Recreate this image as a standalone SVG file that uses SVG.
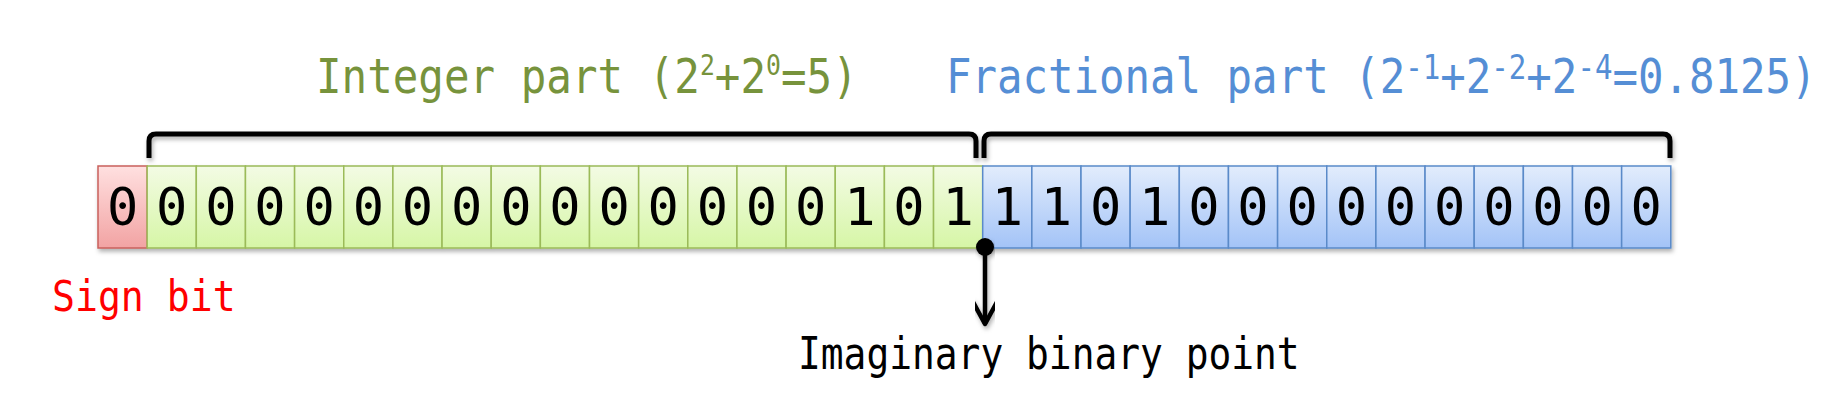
<svg xmlns="http://www.w3.org/2000/svg" width="1845" height="412" viewBox="0 0 1845 412">
  <defs>
    <linearGradient id="gSign" x1="0" y1="0" x2="0" y2="1">
      <stop offset="0" stop-color="#FFE0E0"/>
      <stop offset="1" stop-color="#F2A3A3"/>
    </linearGradient>
    <linearGradient id="gInt" x1="0" y1="0" x2="0" y2="1">
      <stop offset="0" stop-color="#F3FBE4"/>
      <stop offset="1" stop-color="#D6F6A6"/>
    </linearGradient>
    <linearGradient id="gFrac" x1="0" y1="0" x2="0" y2="1">
      <stop offset="0" stop-color="#E2ECFC"/>
      <stop offset="1" stop-color="#A3C3F7"/>
    </linearGradient>
    <filter id="shadow" x="-5%" y="-20%" width="110%" height="150%">
      <feDropShadow dx="1.5" dy="3" stdDeviation="2" flood-color="#000" flood-opacity="0.3"/>
    </filter>
    <marker id="chev" viewBox="0 0 30 30" refX="26" refY="15" markerWidth="30" markerHeight="30" markerUnits="userSpaceOnUse" orient="auto">
      <path d="M3,2.5 L26,15 L3,27.5" fill="none" stroke="#000" stroke-width="4.5" stroke-linecap="round" stroke-linejoin="round"/>
    </marker>
  </defs>
  <style>
    .mono { font-family: "DejaVu Sans Mono", "Liberation Mono", monospace; }
    .digit { font-family: "DejaVu Sans Mono", "Liberation Mono", monospace; font-size: 52px; fill: #000; text-anchor: middle; }
    .sign { fill: url(#gSign); stroke: #C9605C; stroke-width: 1.5; }
    .int { fill: url(#gInt); stroke: #9BBB59; stroke-width: 1.5; }
    .frac { fill: url(#gFrac); stroke: #5A8AC9; stroke-width: 1.5; }
    .brace { fill: none; stroke: #000; stroke-width: 5; stroke-linejoin: round; stroke-linecap: butt; }
  </style>
  <rect width="1845" height="412" fill="#FFFFFF"/>

  <!-- Labels -->
  <g id="label-integer">
    <text class="mono" transform="translate(316,93) scale(0.886,1)" font-size="48" fill="#77933C">Integer part (2<tspan font-size="28" dy="-18">2</tspan><tspan dy="18">+2</tspan><tspan font-size="28" dy="-18">0</tspan><tspan dy="18">=5)</tspan></text>
  </g>
  <g id="label-fractional">
    <text class="mono" transform="translate(946,93) scale(0.883,1)" font-size="48" fill="#558ED5">Fractional part (2<tspan font-size="33" dy="-14">-1</tspan><tspan dy="14">+2</tspan><tspan font-size="33" dy="-14">-2</tspan><tspan dy="14">+2</tspan><tspan font-size="33" dy="-14">-4</tspan><tspan dy="14">=0.8125)</tspan></text>
  </g>
  <g id="label-sign">
    <text class="mono" transform="translate(52,311) scale(0.887,1)" font-size="43" fill="#FF0000">Sign bit</text>
  </g>
  <g id="label-point">
    <text class="mono" transform="translate(798,369) scale(0.861,1)" font-size="44" fill="#000000">Imaginary binary point</text>
  </g>

  <!-- Brackets -->
  <g id="brackets" filter="url(#shadow)">
    <path class="brace" d="M149,158 L149,141 Q149,134 156,134 L969,134 Q976,134 976,141 L976,158"/>
    <path class="brace" d="M984,158 L984,141 Q984,134 991,134 L1663,134 Q1670,134 1670,141 L1670,158"/>
  </g>

  <!-- Bit cells -->
  <g id="cells" filter="url(#shadow)">
    <g id="bit-31"><rect class="sign" x="98.0" y="166" width="49.15" height="82"/><text class="digit" x="122.6" y="225">0</text></g>
    <g id="bit-30"><rect class="int" x="147.15" y="166" width="49.15" height="82"/><text class="digit" x="171.7" y="225">0</text></g>
    <g id="bit-29"><rect class="int" x="196.3" y="166" width="49.15" height="82"/><text class="digit" x="220.9" y="225">0</text></g>
    <g id="bit-28"><rect class="int" x="245.45" y="166" width="49.15" height="82"/><text class="digit" x="270.0" y="225">0</text></g>
    <g id="bit-27"><rect class="int" x="294.6" y="166" width="49.15" height="82"/><text class="digit" x="319.2" y="225">0</text></g>
    <g id="bit-26"><rect class="int" x="343.75" y="166" width="49.15" height="82"/><text class="digit" x="368.3" y="225">0</text></g>
    <g id="bit-25"><rect class="int" x="392.9" y="166" width="49.15" height="82"/><text class="digit" x="417.5" y="225">0</text></g>
    <g id="bit-24"><rect class="int" x="442.05" y="166" width="49.15" height="82"/><text class="digit" x="466.6" y="225">0</text></g>
    <g id="bit-23"><rect class="int" x="491.2" y="166" width="49.15" height="82"/><text class="digit" x="515.8" y="225">0</text></g>
    <g id="bit-22"><rect class="int" x="540.35" y="166" width="49.15" height="82"/><text class="digit" x="564.9" y="225">0</text></g>
    <g id="bit-21"><rect class="int" x="589.5" y="166" width="49.15" height="82"/><text class="digit" x="614.1" y="225">0</text></g>
    <g id="bit-20"><rect class="int" x="638.65" y="166" width="49.15" height="82"/><text class="digit" x="663.2" y="225">0</text></g>
    <g id="bit-19"><rect class="int" x="687.8" y="166" width="49.15" height="82"/><text class="digit" x="712.4" y="225">0</text></g>
    <g id="bit-18"><rect class="int" x="736.95" y="166" width="49.15" height="82"/><text class="digit" x="761.5" y="225">0</text></g>
    <g id="bit-17"><rect class="int" x="786.1" y="166" width="49.15" height="82"/><text class="digit" x="810.7" y="225">0</text></g>
    <g id="bit-16"><rect class="int" x="835.25" y="166" width="49.15" height="82"/><text class="digit" x="859.8" y="225">1</text></g>
    <g id="bit-15"><rect class="int" x="884.4" y="166" width="49.15" height="82"/><text class="digit" x="909.0" y="225">0</text></g>
    <g id="bit-14"><rect class="int" x="933.55" y="166" width="49.15" height="82"/><text class="digit" x="958.1" y="225">1</text></g>
    <g id="bit-13"><rect class="frac" x="982.7" y="166" width="49.15" height="82"/><text class="digit" x="1007.3" y="225">1</text></g>
    <g id="bit-12"><rect class="frac" x="1031.85" y="166" width="49.15" height="82"/><text class="digit" x="1056.4" y="225">1</text></g>
    <g id="bit-11"><rect class="frac" x="1081.0" y="166" width="49.15" height="82"/><text class="digit" x="1105.6" y="225">0</text></g>
    <g id="bit-10"><rect class="frac" x="1130.15" y="166" width="49.15" height="82"/><text class="digit" x="1154.7" y="225">1</text></g>
    <g id="bit-9"><rect class="frac" x="1179.3" y="166" width="49.15" height="82"/><text class="digit" x="1203.9" y="225">0</text></g>
    <g id="bit-8"><rect class="frac" x="1228.45" y="166" width="49.15" height="82"/><text class="digit" x="1253.0" y="225">0</text></g>
    <g id="bit-7"><rect class="frac" x="1277.6" y="166" width="49.15" height="82"/><text class="digit" x="1302.2" y="225">0</text></g>
    <g id="bit-6"><rect class="frac" x="1326.75" y="166" width="49.15" height="82"/><text class="digit" x="1351.3" y="225">0</text></g>
    <g id="bit-5"><rect class="frac" x="1375.9" y="166" width="49.15" height="82"/><text class="digit" x="1400.5" y="225">0</text></g>
    <g id="bit-4"><rect class="frac" x="1425.05" y="166" width="49.15" height="82"/><text class="digit" x="1449.6" y="225">0</text></g>
    <g id="bit-3"><rect class="frac" x="1474.2" y="166" width="49.15" height="82"/><text class="digit" x="1498.8" y="225">0</text></g>
    <g id="bit-2"><rect class="frac" x="1523.35" y="166" width="49.15" height="82"/><text class="digit" x="1547.9" y="225">0</text></g>
    <g id="bit-1"><rect class="frac" x="1572.5" y="166" width="49.15" height="82"/><text class="digit" x="1597.1" y="225">0</text></g>
    <g id="bit-0"><rect class="frac" x="1621.65" y="166" width="49.15" height="82"/><text class="digit" x="1646.2" y="225">0</text></g>
  </g>

  <!-- Connectors -->
  <g id="connectors" filter="url(#shadow)">
    <circle cx="985" cy="247" r="9" fill="#000"/>
    <line x1="985" y1="247" x2="985" y2="324" stroke="#000" stroke-width="4.5" marker-end="url(#chev)"/>
  </g>
</svg>
